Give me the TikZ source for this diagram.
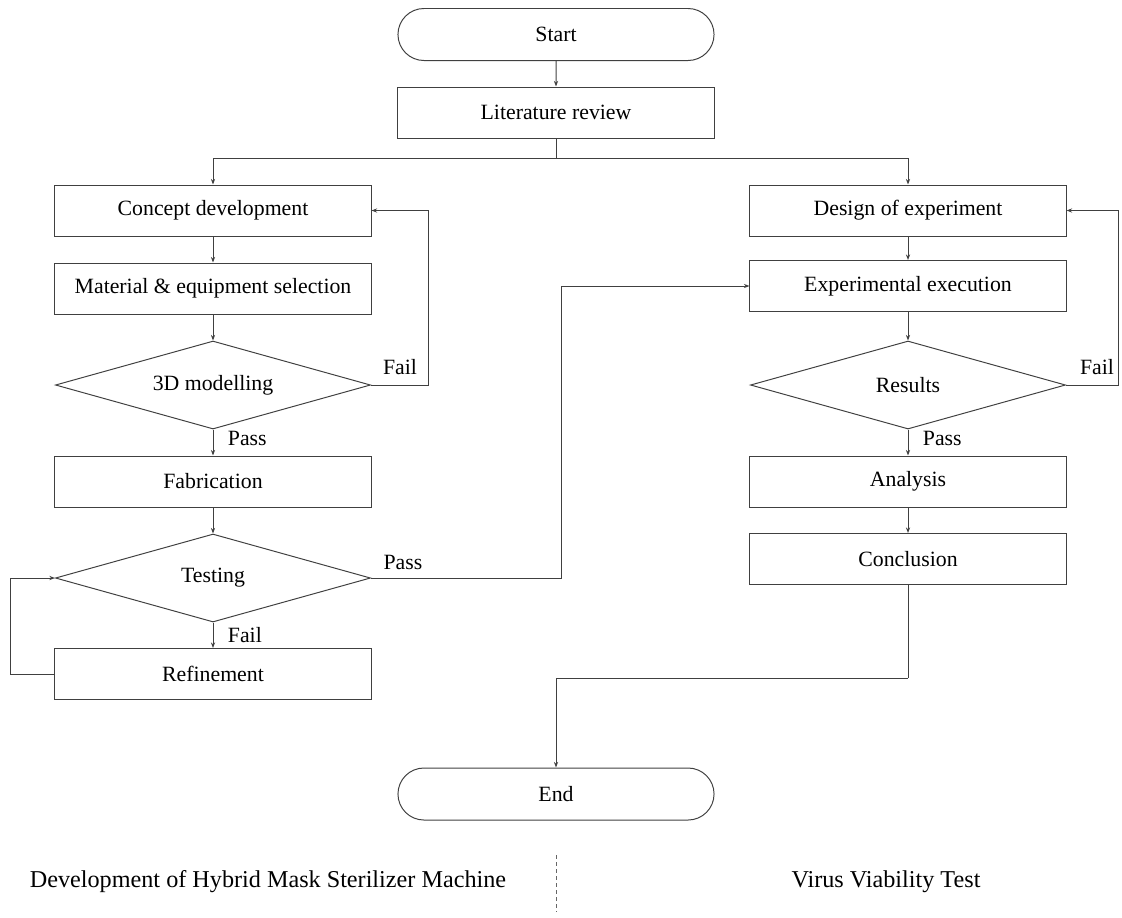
\documentclass[tikz,border=0pt]{standalone}
\usepackage{fontspec}
\setmainfont{Liberation Serif}
\usetikzlibrary{shapes,arrows.meta}

\begin{document}
\begin{tikzpicture}[
	x=0.025cm, y=-0.025cm,
	line width=0.7pt,
	font=\fontsize{15.5}{18}\selectfont,
	box/.style={
		rectangle, draw=black!75,
		minimum width=7.9cm,
		minimum height=1.275cm,
		inner sep=0pt
	},
	term/.style={
		rounded rectangle, draw=black!75,
		minimum width=7.9cm,
		minimum height=1.3cm,
		inner sep=0pt
	},
	decision/.style={
		diamond, draw=black!75,
		shape aspect=3.6,
		minimum width=7.875cm,
		minimum height=2.2cm,
		inner sep=0pt
	},
	flow/.style={draw=black!75, -{Stealth[length=4pt,width=3pt]}},
	line/.style={draw=black!75},
	lbl/.style={inner sep=1pt},
	title/.style={font=\fontsize{17.2}{20}\selectfont}
]
\useasboundingbox (0,0) rectangle (1122,917);

\node[term] (start) at (556,34.5) {Start};
\node[box] (lit) at (556,112.5) {Literature review};
\coordinate (br) at (556,158);

\node[box] (concept) at (213,210.5) {Concept development};
\node[box] (material) at (213,288.5) {Material \& equipment selection};
\node[decision] (model) at (213,385) {3D modelling};
\node[box] (fab) at (213,481.5) {Fabrication};
\node[decision] (test) at (213,578) {Testing};
\node[box] (refine) at (213,674) {Refinement};

\node[box] (design) at (908,210.5) {Design of experiment};
\node[box] (exec) at (908,286) {Experimental execution};
\node[decision] (results) at (908,385) {Results};
\node[box] (analysis) at (908,481.5) {Analysis};
\node[box] (concl) at (908,559) {Conclusion};

\node[term] (end) at (556,794) {End};

\coordinate (f1) at (428,385);
\coordinate (p1) at (561,578);
\coordinate (r1) at (10,674);
\coordinate (f2) at (1118,385);
\coordinate (c1) at (908,678);

\draw[flow] (start) -- (lit);
\draw[line] (lit) -- (br);
\draw[flow] (br) -| (concept);
\draw[flow] (br) -| (design);

\draw[flow] (concept) -- (material);
\draw[flow] (material) -- (model);
\draw[flow] (model) -- (fab);
\draw[flow] (model.east) -- (f1) |- (concept);
\draw[flow] (fab) -- (test);
\draw[flow] (test) -- (refine);
\draw[flow] (refine.west) -- (r1) |- (test.west);
\draw[flow] (test.east) -- (p1) |- (exec);

\draw[flow] (design) -- (exec);
\draw[flow] (exec) -- (results);
\draw[flow] (results.east) -- (f2) |- (design);
\draw[flow] (results) -- (analysis);
\draw[flow] (analysis) -- (concl);
\draw[line] (concl) -- (c1);
\draw[flow] (c1) -| (end);

\node[lbl] (fail1) at (400,367) {Fail};
\node[lbl, anchor=west] (pass1) at (226,438) {Pass};
\node[lbl] (pass2) at (403,562) {Pass};
\node[lbl, anchor=west] (fail2) at (226,635) {Fail};
\node[lbl] (fail3) at (1097,367) {Fail};
\node[lbl, anchor=west] (pass3) at (921,438) {Pass};

\node[title] (devt) at (268,882) {Development of Hybrid Mask Sterilizer Machine};
\node[title] (virus) at (886,882) {Virus Viability Test};
\draw[dashed, draw=black!60, dash pattern=on 3pt off 2pt] (556,855) -- (556,912);
\end{tikzpicture}
\end{document}
